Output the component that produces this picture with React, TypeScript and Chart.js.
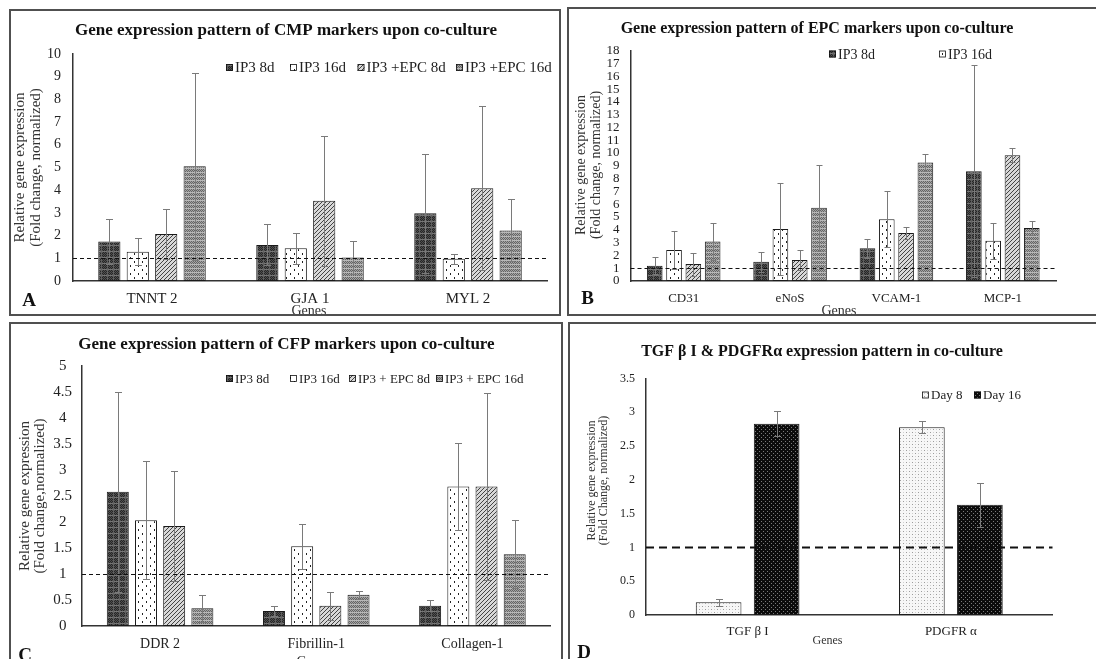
import React, { useEffect, useRef } from 'react';
import { Chart, registerables } from 'chart.js';

Chart.register(...registerables);

const PAGE_W = 1096;
const PAGE_H = 659;
const SERIF = '"Liberation Serif", "Times New Roman", serif';

// ---------- Panel A : CMP markers ----------
const cmpGenes = ['TNNT 2', 'GJA 1', 'MYL 2'];
const cmpSeriesNames = ['IP3 8d', 'IP3 16d', 'IP3 +EPC 8d', 'IP3 +EPC 16d'];
const cmpIP3d8 = [1.74, 1.59, 2.98];
const cmpIP3d8Err = [0.97, 0.9, 2.63];
const cmpIP3d16 = [1.29, 1.44, 0.98];
const cmpIP3d16Err = [0.6, 0.67, 0.21];
const cmpEpcD8 = [2.07, 3.53, 4.09];
const cmpEpcD8Err = [1.08, 2.87, 3.62];
const cmpEpcD16 = [5.06, 1.04, 2.23];
const cmpEpcD16Err = [4.12, 0.72, 1.37];
const cmpTicks = [0, 1, 2, 3, 4, 5, 6, 7, 8, 9, 10];

// ---------- Panel B : EPC markers ----------
const epcGenes = ['CD31', 'eNoS', 'VCAM-1', 'MCP-1'];
const epcSeriesNames = ['IP3 8d', 'IP3 16d', 'IP3 +EPC 8d', 'IP3 +EPC 16d'];
const epcIP3d8 = [1.19, 1.5, 2.56, 8.58];
const epcIP3d8Err = [0.66, 0.8, 0.76, 8.28];
const epcIP3d16 = [2.43, 4.06, 4.83, 3.14];
const epcIP3d16Err = [1.5, 3.57, 2.21, 1.4];
const epcEpcD8 = [1.32, 1.64, 3.75, 9.82];
const epcEpcD8Err = [0.9, 0.79, 0.47, 0.55];
const epcEpcD16 = [3.09, 5.73, 9.26, 4.14];
const epcEpcD16Err = [1.45, 3.37, 0.69, 0.56];
const epcTicks = [0, 1, 2, 3, 4, 5, 6, 7, 8, 9, 10, 11, 12, 13, 14, 15, 16, 17, 18];

// ---------- Panel C : CFP markers ----------
const cfpGenes = ['DDR 2', 'Fibrillin-1', 'Collagen-1'];
const cfpSeriesNames = ['IP3 8d', 'IP3 16d', 'IP3 + EPC 8d', 'IP3 + EPC 16d'];
const cfpIP3d8 = [2.58, 0.29, 0.39];
const cfpIP3d8Err = [1.92, 0.1, 0.1];
const cfpIP3d16 = [2.03, 1.53, 2.68];
const cfpIP3d16Err = [1.13, 0.43, 0.84];
const cfpEpcD8 = [1.92, 0.39, 2.68];
const cfpEpcD8Err = [1.05, 0.27, 1.79];
const cfpEpcD16 = [0.34, 0.6, 1.38];
const cfpEpcD16Err = [0.26, 0.08, 0.65];
const cfpTicks = [0, 0.5, 1, 1.5, 2, 2.5, 3, 3.5, 4, 4.5, 5];

// ---------- Panel D : TGF beta I & PDGFR alpha ----------
const tgfGenes = ['TGF β I', 'PDGFR α'];
const tgfSeriesNames = ['Day 8', 'Day 16'];
const tgfDay8 = [0.19, 2.78];
const tgfDay8Err = [0.05, 0.085];
const tgfDay16 = [2.83, 1.63];
const tgfDay16Err = [0.185, 0.325];
const tgfTicks = [0, 0.5, 1, 1.5, 2, 2.5, 3, 3.5];

// normalised control level (dashed line)
const referenceLevel = 1;

type PatternKind = 'darkCheck' | 'whiteDots' | 'hatch' | 'grayCheck' | 'lightDots' | 'blackDots';

interface TextItem {
  text: string;
  x: number;
  y: number;
  size: number;
  bold?: boolean;
  rotate?: boolean;
  color?: string;
}

interface SeriesSpec {
  label: string;
  data: number[];
  err: number[];
  pattern: PatternKind;
}

interface PanelSpec {
  labels: string[];
  series: SeriesSpec[];
  ticks: number[];
  area: { left: number; right: number; top: number; bottom: number };
  tickFont: number;
  tickPad: number;
  tickAlign: 'near' | 'center';
  tickLineHeight: number;
  catFont: number;
  catPad: number;
  catPct: number;
  barPct: number;
  ref: { width: number; dash: number[] };
  legend: { y: number; xs: number[]; size: number; box: number };
  texts: TextItem[];
  cap: number;
}

function makePattern(kind: PatternKind): CanvasPattern | string {
  const c = document.createElement('canvas');
  const ctx = c.getContext('2d');
  if (!ctx) return '#888';
  const px = (x: number, y: number, col: string, w = 1, h = 1) => {
    ctx.fillStyle = col;
    ctx.fillRect(x, y, w, h);
  };
  if (kind === 'darkCheck') {
    c.width = 6; c.height = 6;
    px(0, 0, '#262626', 6, 6);
    for (let x = 0; x < 6; x++) for (let y = 0; y < 6; y++) if ((x + y) % 2 === 0) px(x, y, '#505050');
    for (let x = 0; x < 6; x++) px(x, 5, '#757575');
    for (let y = 0; y < 6; y++) px(5, y, '#606060');
  } else if (kind === 'whiteDots') {
    c.width = 8; c.height = 8;
    px(0, 0, '#ffffff', 8, 8);
    px(2, 1, '#222', 1, 2);
    px(6, 5, '#222', 1, 2);
  } else if (kind === 'hatch') {
    c.width = 4; c.height = 4;
    px(0, 0, '#d8d8d8', 4, 4);
    px(3, 0, '#444'); px(2, 1, '#444'); px(1, 2, '#444'); px(0, 3, '#444');
  } else if (kind === 'grayCheck') {
    c.width = 4; c.height = 4;
    px(0, 0, '#a4a4a4', 4, 4);
    for (let x = 0; x < 4; x++) for (let y = 0; y < 4; y++) if ((x + y) % 2 === 0) px(x, y, '#646464');
    for (let x = 0; x < 4; x++) px(x, 0, '#b8b8b8');
  } else if (kind === 'lightDots') {
    c.width = 6; c.height = 6;
    px(0, 0, '#f7f7f7', 6, 6);
    px(0, 0, '#9c9c9c'); px(3, 3, '#9c9c9c'); px(3, 0, '#cfcfcf'); px(0, 3, '#cfcfcf');
  } else {
    c.width = 4; c.height = 4;
    px(0, 0, '#0c0c0c', 4, 4);
    px(1, 1, '#7a7a7a'); px(3, 3, '#7a7a7a');
  }
  return ctx.createPattern(c, 'repeat') || '#888';
}

function drawText(ctx: CanvasRenderingContext2D, t: TextItem) {
  ctx.save();
  ctx.font = `${t.bold ? 'bold ' : ''}${t.size}px ${SERIF}`;
  ctx.fillStyle = t.color || '#1e1e1e';
  ctx.textAlign = 'center';
  ctx.textBaseline = 'middle';
  ctx.translate(t.x, t.y);
  if (t.rotate) ctx.rotate(-Math.PI / 2);
  ctx.fillText(t.text, 0, 0);
  ctx.restore();
}

function buildChart(canvas: HTMLCanvasElement, spec: PanelSpec): Chart {
  const yAxisW = 40;
  const xAxisH = 30;
  const patterns = spec.series.map((s) => makePattern(s.pattern));

  const extras = {
    id: 'panelExtras',
    afterDatasetsDraw(chart: any) {
      const ctx: CanvasRenderingContext2D = chart.ctx;
      const yScale = chart.scales.y;
      const area = chart.chartArea;
      ctx.save();
      ctx.strokeStyle = '#7a7a7a';
      ctx.lineWidth = 1;
      spec.series.forEach((s, i) => {
        const meta = chart.getDatasetMeta(i);
        meta.data.forEach((el: any, j: number) => {
          const v = s.data[j];
          const e = s.err[j];
          const x = Math.round(el.x) + 0.5;
          const yt = Math.round(yScale.getPixelForValue(v + e)) + 0.5;
          const yb = Math.round(yScale.getPixelForValue(Math.max(0, v - e))) + 0.5;
          const h = spec.cap / 2;
          ctx.beginPath();
          ctx.moveTo(x, yt); ctx.lineTo(x, yb);
          ctx.moveTo(x - h, yt); ctx.lineTo(x + h, yt);
          ctx.moveTo(x - h, yb); ctx.lineTo(x + h, yb);
          ctx.stroke();
        });
      });
      const ry = Math.round(yScale.getPixelForValue(referenceLevel)) + 0.5;
      ctx.strokeStyle = '#111';
      ctx.lineWidth = spec.ref.width;
      ctx.setLineDash(spec.ref.dash);
      ctx.beginPath();
      ctx.moveTo(area.left, ry);
      ctx.lineTo(area.right, ry);
      ctx.stroke();
      ctx.restore();
    },
    afterDraw(chart: any) {
      const ctx: CanvasRenderingContext2D = chart.ctx;
      const lg = spec.legend;
      lg.xs.forEach((x, i) => {
        const s = spec.series[i];
        if (!s) return;
        ctx.save();
        ctx.fillStyle = patterns[i] as any;
        ctx.fillRect(x, lg.y - lg.box / 2, lg.box, lg.box);
        ctx.strokeStyle = '#111';
        ctx.lineWidth = 0.8;
        ctx.strokeRect(x + 0.5, lg.y - lg.box / 2 + 0.5, lg.box - 1, lg.box - 1);
        ctx.font = `${lg.size}px ${SERIF}`;
        ctx.fillStyle = '#222';
        ctx.textAlign = 'left';
        ctx.textBaseline = 'middle';
        ctx.fillText(s.label, x + lg.box + 2, lg.y + 1);
        ctx.restore();
      });
      spec.texts.forEach((t) => drawText(ctx, t));
    },
  };

  const tickValues = spec.ticks;

  return new Chart(canvas, {
    type: 'bar',
    data: {
      labels: spec.labels,
      datasets: spec.series.map((s, i) => ({
        label: s.label,
        data: s.data,
        backgroundColor: patterns[i] as any,
        borderColor: '#1a1a1a',
        borderWidth: 1,
        borderSkipped: false,
        categoryPercentage: spec.catPct,
        barPercentage: spec.barPct,
      })),
    },
    options: {
      responsive: false,
      animation: false,
      events: [],
      layout: {
        padding: {
          left: spec.area.left - yAxisW,
          right: PAGE_W - spec.area.right,
          top: spec.area.top,
          bottom: PAGE_H - spec.area.bottom - xAxisH,
        },
      },
      plugins: {
        legend: { display: false },
        tooltip: { enabled: false },
        title: { display: false },
      },
      scales: {
        x: {
          grid: { display: false, drawTicks: false },
          border: { display: true, color: '#333', width: 1.5 },
          ticks: {
            font: { family: SERIF, size: spec.catFont },
            color: '#222',
            padding: spec.catPad,
            maxRotation: 0,
            autoSkip: false,
          },
          afterFit: (scale: any) => {
            scale.height = xAxisH;
          },
        },
        y: {
          min: 0,
          max: tickValues[tickValues.length - 1],
          grid: { display: false, drawTicks: false },
          border: { display: true, color: '#333', width: 1.5 },
          ticks: {
            font: { family: SERIF, size: spec.tickFont, lineHeight: spec.tickLineHeight },
            color: '#222',
            padding: spec.tickPad,
            crossAlign: spec.tickAlign,
            autoSkip: false,
            callback: (value: any) => String(Number(value)),
          },
          afterBuildTicks: (scale: any) => {
            scale.ticks = tickValues.map((v) => ({ value: v }));
          },
          afterFit: (scale: any) => {
            scale.width = yAxisW;
          },
        },
      },
    } as any,
    plugins: [extras],
  });
}

const seriesPatterns: PatternKind[] = ['darkCheck', 'whiteDots', 'hatch', 'grayCheck'];

const panelA: PanelSpec = {
  labels: cmpGenes,
  series: [
    { label: cmpSeriesNames[0], data: cmpIP3d8, err: cmpIP3d8Err, pattern: seriesPatterns[0] },
    { label: cmpSeriesNames[1], data: cmpIP3d16, err: cmpIP3d16Err, pattern: seriesPatterns[1] },
    { label: cmpSeriesNames[2], data: cmpEpcD8, err: cmpEpcD8Err, pattern: seriesPatterns[2] },
    { label: cmpSeriesNames[3], data: cmpEpcD16, err: cmpEpcD16Err, pattern: seriesPatterns[3] },
  ],
  ticks: cmpTicks,
  area: { left: 73, right: 547, top: 54, bottom: 281 },
  tickFont: 14,
  tickPad: 12,
  tickAlign: 'near',
  tickLineHeight: 1.2,
  catFont: 15,
  catPad: 9,
  catPct: 0.72,
  barPct: 0.78,
  ref: { width: 1.2, dash: [4, 3] },
  legend: { y: 67.5, xs: [226, 290, 357.5, 456], size: 15, box: 7 },
  texts: [
    { text: 'Gene expression pattern of CMP markers upon co-culture', x: 286, y: 30.5, size: 17, bold: true, color: '#111' },
    { text: 'Relative gene expression', x: 20.5, y: 167.5, size: 15, rotate: true, color: '#333' },
    { text: '(Fold change, normalized)', x: 36.5, y: 167.5, size: 15, rotate: true, color: '#333' },
    { text: 'Genes', x: 309, y: 311.5, size: 14, color: '#333' },
    { text: 'A', x: 29, y: 301, size: 19, bold: true, color: '#111' },
  ],
  cap: 7,
};

const panelB: PanelSpec = {
  labels: epcGenes,
  series: [
    { label: epcSeriesNames[0], data: epcIP3d8, err: epcIP3d8Err, pattern: seriesPatterns[0] },
    { label: epcSeriesNames[1], data: epcIP3d16, err: epcIP3d16Err, pattern: seriesPatterns[1] },
    { label: epcSeriesNames[2], data: epcEpcD8, err: epcEpcD8Err, pattern: seriesPatterns[2] },
    { label: epcSeriesNames[3], data: epcEpcD16, err: epcEpcD16Err, pattern: seriesPatterns[3] },
  ],
  ticks: epcTicks,
  area: { left: 630.5, right: 1056, top: 50.7, bottom: 281 },
  tickFont: 13,
  tickPad: 11,
  tickAlign: 'near',
  tickLineHeight: 0.9,
  catFont: 13,
  catPad: 10,
  catPct: 0.726,
  barPct: 0.81,
  ref: { width: 1.2, dash: [4, 3] },
  legend: { y: 54, xs: [829, 939], size: 14, box: 7 },
  texts: [
    { text: 'Gene expression pattern of EPC markers upon co-culture', x: 817, y: 29, size: 16, bold: true, color: '#111' },
    { text: 'Relative gene expression', x: 581, y: 165, size: 14, rotate: true, color: '#333' },
    { text: '(Fold change, normalized)', x: 596, y: 165, size: 14, rotate: true, color: '#333' },
    { text: 'Genes', x: 839, y: 311, size: 14, color: '#333' },
    { text: 'B', x: 587.5, y: 299.5, size: 19, bold: true, color: '#111' },
  ],
  cap: 6,
};

const panelC: PanelSpec = {
  labels: cfpGenes,
  series: [
    { label: cfpSeriesNames[0], data: cfpIP3d8, err: cfpIP3d8Err, pattern: seriesPatterns[0] },
    { label: cfpSeriesNames[1], data: cfpIP3d16, err: cfpIP3d16Err, pattern: seriesPatterns[1] },
    { label: cfpSeriesNames[2], data: cfpEpcD8, err: cfpEpcD8Err, pattern: seriesPatterns[2] },
    { label: cfpSeriesNames[3], data: cfpEpcD16, err: cfpEpcD16Err, pattern: seriesPatterns[3] },
  ],
  ticks: cfpTicks,
  area: { left: 82, right: 550.5, top: 365.7, bottom: 626 },
  tickFont: 15,
  tickPad: 10,
  tickAlign: 'center',
  tickLineHeight: 1.2,
  catFont: 14,
  catPad: 10,
  catPct: 0.722,
  barPct: 0.78,
  ref: { width: 1.2, dash: [4, 3] },
  legend: { y: 378.5, xs: [226, 290, 349, 436], size: 13, box: 7 },
  texts: [
    { text: 'Gene expression pattern of CFP markers upon co-culture', x: 286.5, y: 345, size: 17, bold: true, color: '#111' },
    { text: 'Relative gene expression', x: 25, y: 496, size: 15, rotate: true, color: '#333' },
    { text: '(Fold change,normalized)', x: 40.5, y: 496, size: 15, rotate: true, color: '#333' },
    { text: 'Genes', x: 314, y: 662, size: 14, color: '#333' },
    { text: 'C', x: 25, y: 656, size: 19, bold: true, color: '#111' },
  ],
  cap: 7,
};

const panelD: PanelSpec = {
  labels: tgfGenes,
  series: [
    { label: tgfSeriesNames[0], data: tgfDay8, err: tgfDay8Err, pattern: 'lightDots' },
    { label: tgfSeriesNames[1], data: tgfDay16, err: tgfDay16Err, pattern: 'blackDots' },
  ],
  ticks: tgfTicks,
  area: { left: 646, right: 1052.5, top: 378.5, bottom: 615 },
  tickFont: 12,
  tickPad: 11,
  tickAlign: 'near',
  tickLineHeight: 1.2,
  catFont: 13,
  catPad: 9,
  catPct: 0.571,
  barPct: 0.787,
  ref: { width: 2, dash: [8, 5] },
  legend: { y: 395, xs: [922, 974], size: 13, box: 7 },
  texts: [
    { text: 'TGF β I & PDGFRα expression pattern in co-culture', x: 822, y: 351.5, size: 16, bold: true, color: '#111' },
    { text: 'Relative gene expression', x: 591.5, y: 480.5, size: 12, rotate: true, color: '#333' },
    { text: '(Fold Change, normalized)', x: 603.7, y: 480.5, size: 12, rotate: true, color: '#333' },
    { text: 'Genes', x: 827.5, y: 641, size: 12, color: '#333' },
    { text: 'D', x: 584, y: 653, size: 19, bold: true, color: '#111' },
  ],
  cap: 7,
};

const panels: PanelSpec[] = [panelA, panelB, panelC, panelD];

const frames = [
  { left: 9, top: 9, width: 552, height: 307 },
  { left: 567, top: 7, width: 540, height: 309 },
  { left: 9, top: 322, width: 554, height: 360 },
  { left: 568, top: 322, width: 540, height: 360 },
];

function PanelCanvas({ spec }: { spec: PanelSpec }) {
  const ref = useRef<HTMLCanvasElement | null>(null);
  useEffect(() => {
    if (!ref.current) return;
    const chart = buildChart(ref.current, spec);
    return () => chart.destroy();
  }, [spec]);
  return (
    <canvas
      ref={ref}
      width={PAGE_W}
      height={PAGE_H}
      style={{ position: 'absolute', left: 0, top: 0, width: PAGE_W, height: PAGE_H }}
    />
  );
}

export default function App() {
  return (
    <div
      style={{
        position: 'absolute',
        left: 0,
        top: 0,
        width: PAGE_W,
        height: PAGE_H,
        overflow: 'hidden',
        background: '#fff',
      }}
    >
      {panels.map((p, i) => (
        <PanelCanvas key={i} spec={p} />
      ))}
      {frames.map((f, i) => (
        <div
          key={'f' + i}
          style={{
            position: 'absolute',
            left: f.left,
            top: f.top,
            width: f.width,
            height: f.height,
            border: '2px solid #505050',
            boxSizing: 'border-box',
            pointerEvents: 'none',
          }}
        />
      ))}
    </div>
  );
}
